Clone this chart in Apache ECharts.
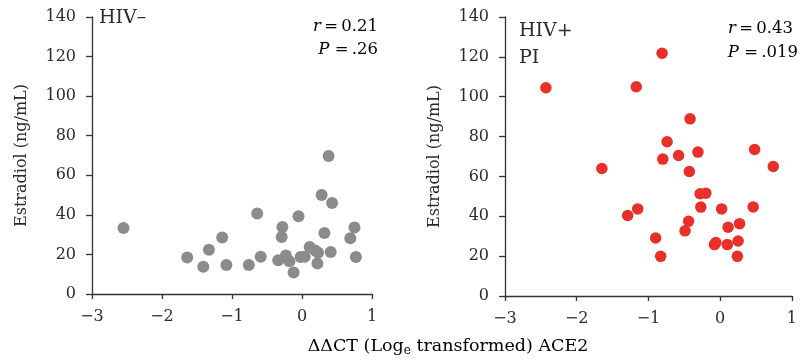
<!DOCTYPE html>
<html><head><meta charset="utf-8">
<script src="https://cdn.jsdelivr.net/npm/echarts@6/dist/echarts.min.js"></script>
<style>html,body{margin:0;padding:0;background:#fff}#c{width:800px;height:363px}</style>
</head><body><div id="c"></div>
<script>
const xTicks = [-3, -2, -1, 0, 1];
const yTicks = [0, 20, 40, 60, 80, 100, 120, 140];
const hivNegX = [-2.55, -1.64, -1.41, -1.33, -1.14, -1.08, -0.76, -0.64, -0.59, -0.34, -0.29, -0.28, -0.23, -0.18, -0.12, -0.05, -0.02, 0.04, 0.11, 0.19, 0.23, 0.22, 0.28, 0.32, 0.38, 0.41, 0.43, 0.69, 0.75, 0.77];
const hivNegY = [33.3, 18.5, 13.8, 22.4, 28.6, 14.6, 14.6, 40.7, 18.8, 17.1, 28.8, 33.9, 19.5, 16.6, 10.9, 39.3, 18.7, 18.8, 23.7, 22.0, 20.8, 15.4, 50.0, 30.8, 69.7, 21.2, 46.0, 28.2, 33.6, 18.7];
const hivPosX = [-2.43, -1.65, -1.29, -1.15, -1.17, -0.90, -0.83, -0.81, -0.80, -0.74, -0.58, -0.49, -0.44, -0.42, -0.43, -0.31, -0.28, -0.27, -0.20, -0.08, -0.06, 0.02, 0.10, 0.11, 0.25, 0.24, 0.27, 0.46, 0.48, 0.74];
const hivPosY = [104.5, 64.0, 40.4, 43.7, 105.0, 29.1, 19.9, 121.8, 68.7, 77.4, 70.5, 32.7, 37.5, 88.9, 62.5, 72.2, 51.3, 44.6, 51.6, 25.8, 26.8, 43.7, 25.8, 34.5, 27.6, 19.9, 36.3, 44.7, 73.5, 65.0];

const FONT = 'DejaVu Serif';
const TXT = '#2b2b2b';
const zip = (a, b) => a.map((v, i) => [v, b[i]]);

function xAxis(gi) {
  return {
    gridIndex: gi, type: 'value', min: xTicks[0], max: xTicks[xTicks.length - 1], interval: 1,
    axisLine: {onZero: false, lineStyle: {color: '#333', width: 1.3}},
    axisTick: {length: 5, lineStyle: {color: '#333', width: 1.3}},
    axisLabel: {color: TXT, fontFamily: FONT, fontSize: 16, margin: 15,
      formatter: v => (v < 0 ? '\u2212' + Math.abs(v) : String(v))},
    splitLine: {show: false}
  };
}
function yAxis(gi) {
  return {
    gridIndex: gi, type: 'value', min: yTicks[0], max: yTicks[yTicks.length - 1], interval: 20,
    name: 'Estradiol (ng/mL)', nameLocation: 'middle', nameGap: 62, nameRotate: 90,
    nameTextStyle: {color: TXT, fontFamily: FONT, fontSize: 16},
    axisLine: {show: true, onZero: false, lineStyle: {color: '#333', width: 1.3}},
    axisTick: {show: true, length: 6, lineStyle: {color: '#333', width: 1.3}},
    axisLabel: {color: TXT, fontFamily: FONT, fontSize: 16, margin: 16},
    splitLine: {show: false}
  };
}

const chart = echarts.init(document.getElementById('c'), null, {renderer: 'canvas'});
const rich = {
  n: {fontFamily: FONT, fontSize: 16.5, color: TXT},
  i: {fontFamily: FONT, fontSize: 16.5, color: TXT, fontStyle: 'italic'},
  t: {fontFamily: FONT, fontSize: 17.5, color: TXT},
  s: {fontFamily: FONT, fontSize: 12, color: TXT, padding: [9, 0, 0, 0]}
};
const lbl = (x, y, text, align) => ({type: 'text', x: x, y: y,
  style: {text: text, rich: rich, textAlign: align, textVerticalAlign: 'middle'}});
chart.setOption({
  animation: false,
  backgroundColor: '#fff',
  grid: [
    {left: 92, top: 17, width: 280, height: 277},
    {left: 505, top: 17, width: 288, height: 279}
  ],
  xAxis: [xAxis(0), xAxis(1)],
  yAxis: [yAxis(0), yAxis(1)],
  series: [
    {type: 'scatter', xAxisIndex: 0, yAxisIndex: 0, data: zip(hivNegX, hivNegY), symbolSize: 12,
      itemStyle: {color: '#8b8b8b', opacity: 1}},
    {type: 'scatter', xAxisIndex: 1, yAxisIndex: 1, data: zip(hivPosX, hivPosY), symbolSize: 11.5,
      itemStyle: {color: '#e8302a', opacity: 1}}
  ],
  graphic: [
    {type: 'text', x: 99, y: 18, style: {text: 'HIV\u2013', font: '19px "DejaVu Serif"', fill: TXT, textVerticalAlign: 'middle'}},
    lbl(378, 27, '{i|r}{n|\u2009=\u20090.21}', 'right'),
    lbl(378, 50, '{i|P}{n| =\u2009.26}', 'right'),
    {type: 'text', x: 519, y: 31, style: {text: 'HIV+', font: '19px "DejaVu Serif"', fill: TXT, textVerticalAlign: 'middle'}},
    {type: 'text', x: 519, y: 58, style: {text: 'PI', font: '19px "DejaVu Serif"', fill: TXT, textVerticalAlign: 'middle'}},
    lbl(793, 29, '{i|r}{n|\u2009=\u20090.43}', 'right'),
    lbl(798, 53, '{i|P}{n| =\u2009.019}', 'right'),
    lbl(448, 346, '{t|\u0394\u0394CT (Log}{s|e}{t| transformed) ACE2}', 'center')
  ]
});
</script></body></html>
